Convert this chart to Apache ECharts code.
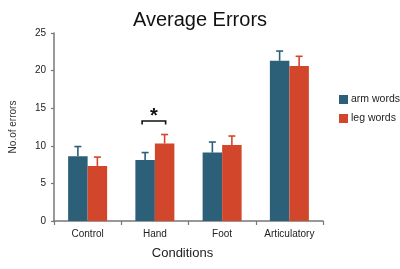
<!DOCTYPE html>
<html><head><meta charset="utf-8">
<script src="https://cdn.jsdelivr.net/npm/echarts@6/dist/echarts.min.js"></script>
<style>html,body{margin:0;padding:0;background:#fff}#c{width:400px;height:269px}</style>
</head><body><div id="c"></div>
<script>
var categories = ['Control', 'Hand', 'Foot', 'Articulatory'];
var armWords = [8.6, 8.1, 9.1, 21.3];
var armErr = [1.3, 1.0, 1.4, 1.3];
var legWords = [7.3, 10.3, 10.1, 20.6];
var legErr = [1.2, 1.2, 1.2, 1.3];
var yTicks = [0, 5, 10, 15, 20, 25];
var sigCategory = 1;
var sigLevel = 13.3;
var sigLabel = '*';

var armColor = '#2b6078';
var legColor = '#d2462b';
var BAR_FRAC = 0.29;

function errSeries(vals, errs, color, side) {
  return {
    type: 'custom',
    silent: true,
    z: 3,
    data: vals.map(function (v, i) { return [i, v, v + errs[i]]; }),
    renderItem: function (params, api) {
      var band = api.size([1, 0])[0];
      var off = side * band * BAR_FRAC / 2;
      var lo = api.coord([api.value(0), api.value(1)]);
      var hi = api.coord([api.value(0), api.value(2)]);
      var x = lo[0] + off;
      var cap = 3.5;
      return {
        type: 'group',
        children: [
          { type: 'line', shape: { x1: x, y1: lo[1], x2: x, y2: hi[1] }, style: { stroke: color, lineWidth: 1.6 } },
          { type: 'line', shape: { x1: x - cap, y1: hi[1], x2: x + cap, y2: hi[1] }, style: { stroke: color, lineWidth: 1.6 } }
        ]
      };
    }
  };
}

var chart = echarts.init(document.getElementById('c'), null, { renderer: 'canvas' });
chart.setOption({
  animation: false,
  backgroundColor: '#fff',
  title: {
    text: 'Average Errors', left: 'center', top: 5,
    textStyle: { fontFamily: 'Liberation Sans', fontSize: 20, fontWeight: 'normal', color: '#111' }
  },
  legend: {
    orient: 'vertical', left: 334, top: 89, itemWidth: 9, itemHeight: 9, itemGap: 8,
    icon: 'rect',
    data: ['arm words', 'leg words'],
    textStyle: { fontFamily: 'Liberation Sans', fontSize: 10.5, color: '#222', padding: [0, 0, 0, -2] }
  },
  grid: { left: 53, right: 77, top: 33, bottom: 48 },
  xAxis: {
    type: 'category', data: categories,
    name: 'Conditions', nameLocation: 'middle', nameGap: 26,
    nameTextStyle: { fontFamily: 'Liberation Sans', fontSize: 13, color: '#222', padding: [0, 12, 0, 0] },
    axisLine: { lineStyle: { color: '#777', width: 1.5 } },
    axisTick: { show: true, length: 4, lineStyle: { color: '#777', width: 1.2 } },
    axisLabel: { fontFamily: 'Liberation Sans', fontSize: 10, color: '#222', margin: 8 }
  },
  yAxis: {
    type: 'value', min: 0, max: 25, interval: 5,
    name: 'No.of errors', nameLocation: 'middle', nameGap: 36, nameRotate: 90,
    nameTextStyle: { fontFamily: 'Liberation Sans', fontSize: 10, color: '#333' },
    axisLine: { show: true, lineStyle: { color: '#777', width: 1.5 } },
    axisTick: { show: true, length: 3, lineStyle: { color: '#777', width: 1.2 } },
    splitLine: { show: false },
    axisLabel: { fontFamily: 'Liberation Sans', fontSize: 10, color: '#222', margin: 8,
      formatter: function (v) { return yTicks.indexOf(v) >= 0 ? String(v) : ''; } }
  },
  series: [
    { name: 'arm words', type: 'bar', data: armWords, barWidth: (BAR_FRAC * 100) + '%', barGap: '0%',
      itemStyle: { color: armColor }, z: 2 },
    { name: 'leg words', type: 'bar', data: legWords, barWidth: (BAR_FRAC * 100) + '%', barGap: '0%',
      itemStyle: { color: legColor }, z: 2 },
    errSeries(armWords, armErr, armColor, -1),
    errSeries(legWords, legErr, legColor, 1),
    {
      type: 'custom', silent: true, z: 4,
      data: [[sigCategory, sigLevel]],
      renderItem: function (params, api) {
        var band = api.size([1, 0])[0];
        var p = api.coord([api.value(0), api.value(1)]);
        var half = band * BAR_FRAC / 2 + 2;
        var x1 = p[0] - half - 1, x2 = p[0] + half - 1, y = p[1], leg = 3.5;
        return {
          type: 'group',
          children: [
            { type: 'polyline', shape: { points: [[x1, y + leg], [x1, y], [x2, y], [x2, y + leg]] },
              style: { stroke: '#111', lineWidth: 1.6, fill: null } },
            { type: 'text', x: (x1 + x2) / 2, y: y - 4,
              style: { text: sigLabel, fontFamily: 'Liberation Sans', fontSize: 20, fontWeight: 'bold',
                fill: '#111', align: 'center', verticalAlign: 'middle' } }
          ]
        };
      }
    }
  ]
});
</script></body></html>
